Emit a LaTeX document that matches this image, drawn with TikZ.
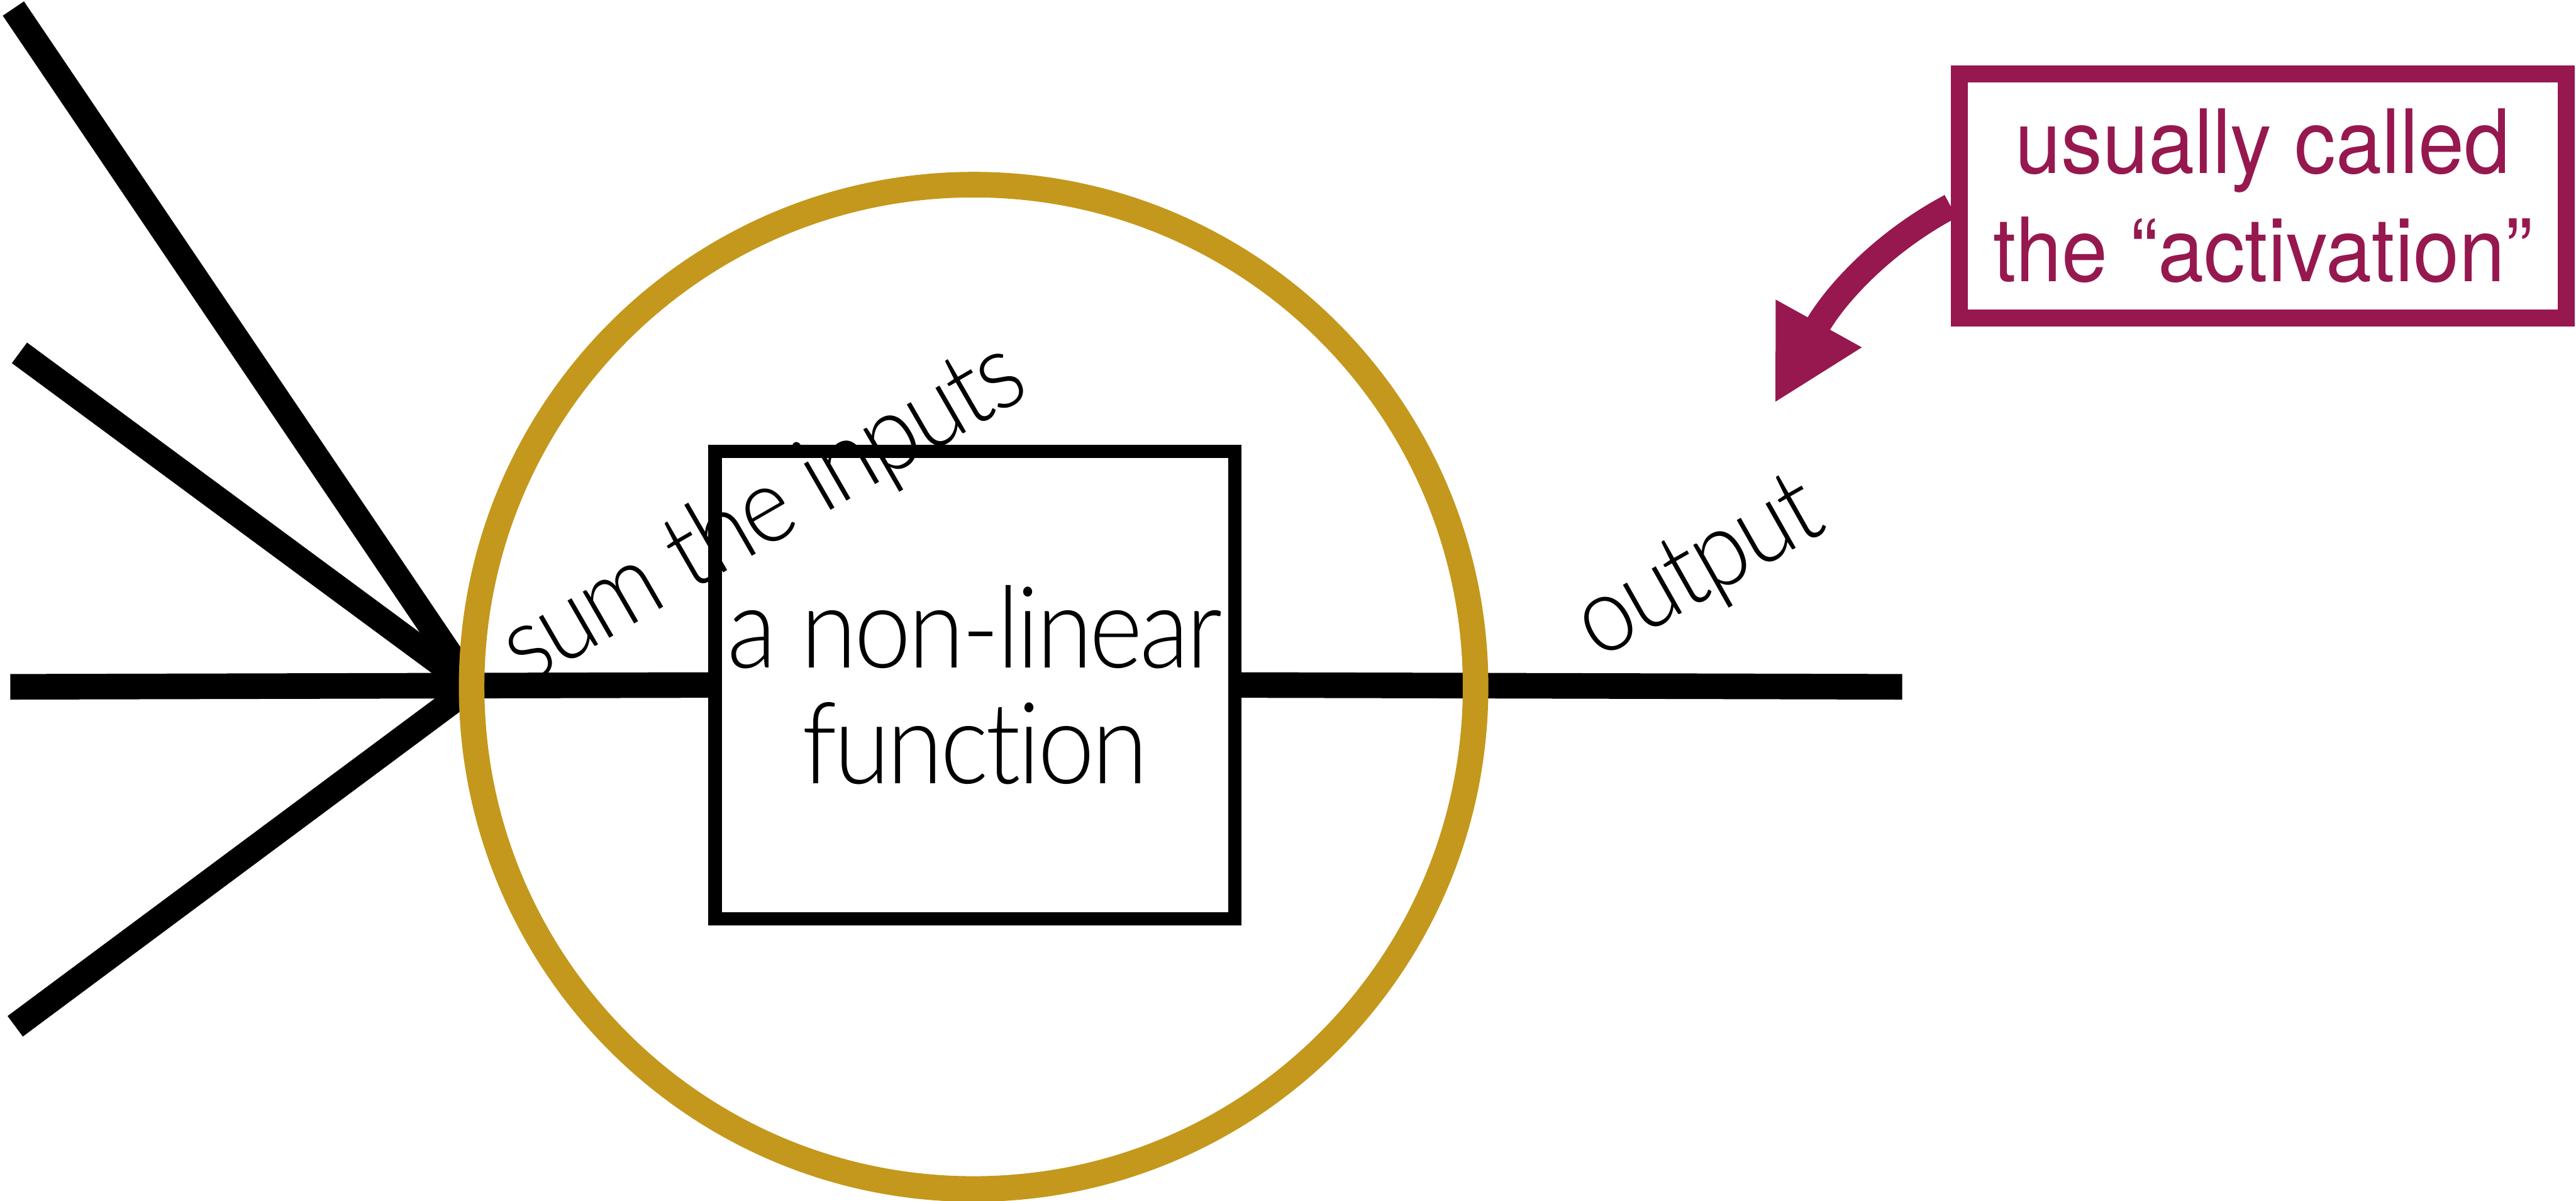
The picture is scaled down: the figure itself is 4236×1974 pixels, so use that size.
\documentclass[tikz,border=0pt]{standalone}
\usepackage{fontspec}
\newfontfamily\gillfont[FakeStretch=0.9,LetterSpace=-2.5,Ligatures={NoCommon,NoRare}]{Lato Light}
\newfontfamily\helvfont[FakeStretch=0.93]{TeX Gyre Heros}
\usetikzlibrary{arrows.meta}
\definecolor{gold}{RGB}{196,152,28}
\definecolor{plum}{RGB}{150,24,79}
\pgfdeclarelayer{background}
\pgfsetlayers{background,main}

\begin{document}
\begin{tikzpicture}[x=0.01cm,y=-0.01cm,
  wire/.style={line width=0.42cm, black},
  neuron/.style={circle, draw=gold, line width=0.42cm, minimum size=16.5cm, inner sep=0pt},
  fnbox/.style={draw=black, line width=0.22cm, fill=white, minimum width=8.54cm,
    minimum height=7.68cm, inner sep=0pt, align=center,
    font=\gillfont\fontsize{53}{54}\selectfont},
  note/.style={draw=plum, line width=0.28cm, fill=white, minimum width=9.98cm,
    minimum height=4.01cm, inner sep=0pt, align=center, text=plum,
    font=\helvfont\fontsize{41.5}{50.6}\selectfont},
  tag/.style={anchor=base, font=\gillfont\fontsize{50}{54}\selectfont},
  pointer/.style={draw=plum, line width=0.42cm,
    -{Triangle[length=1.5cm,width=1.5cm]}}]

\useasboundingbox (0,0) rectangle (4236,1974);

% neuron body and the function box inside it
\node[neuron] (body) at (1601,1129) {};
\node[fnbox] (fn) at (1603,1126) {a non-linear\\function};

% explanatory note at the top right
\node[note] (note) at (3721,322) {usually called\\the “activation”};

% incoming and outgoing wires
\coordinate (hub) at (776,1129);
\coordinate (in1) at (22,14);
\coordinate (in2) at (32,580);
\coordinate (in3) at (17,1129);
\coordinate (in4) at (25,1687);
\coordinate (out) at (3128,1129);
\coordinate (tip) at (2918,663);

\begin{pgfonlayer}{background}
  \draw[wire] (in1) -- (hub);
  \draw[wire] (in2) -- (hub);
  \draw[wire] (in4) -- (hub);
  \draw[wire] (in3) -- (fn.west);
  \draw[wire] (fn.east) -- (out);
\end{pgfonlayer}

% labels along the wires
\node[tag, rotate=30] (sumlbl) at (1281,888) {sum the inputs};
\node[tag, rotate=29.5] (outlbl) at (2818,978) {output};

% curved pointer from the note
\draw[pointer] ([yshift=-0.17cm]note.west) .. controls (3093,400) and (3015,488) .. (tip);
\end{tikzpicture}
\end{document}
